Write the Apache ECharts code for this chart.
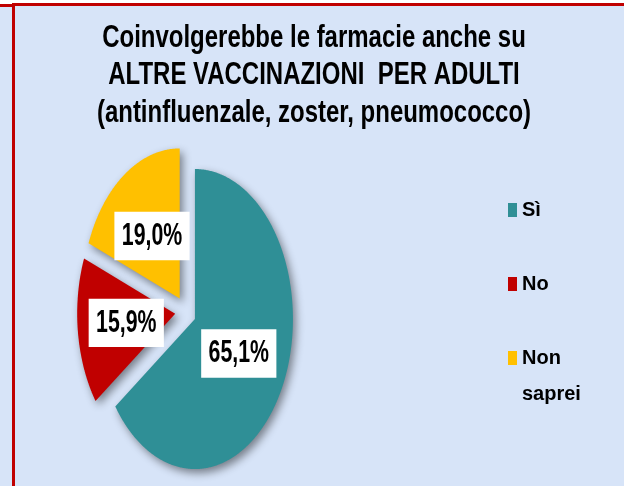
<!DOCTYPE html>
<html>
<head>
<meta charset="utf-8">
<script src="https://cdn.jsdelivr.net/npm/echarts@6/dist/echarts.min.js"></script>
<style>
  html, body { margin: 0; padding: 0; background: #ffffff; }
  #chart { width: 624px; height: 486px; }
</style>
</head>
<body>
<div id="chart"></div>
<script>
// Survey answers: would pharmacies also be involved in other adult vaccinations?
const categories = ['Sì', 'No', 'Non saprei'];
const shares = [65.1, 15.9, 19.0];
const titleLines = [
  'Coinvolgerebbe le farmacie anche su',
  'ALTRE VACCINAZIONI  PER ADULTI',
  '(antinfluenzale, zoster, pneumococco)'
];

const palette = ['#2F8F96', '#C00000', '#FFC000'];
const FONT = "'Liberation Sans', Arial, sans-serif";
const EXPLODE = 0.107;   // slice pull-out, as a fraction of the radius
const LABEL_R = 0.61;    // label distance from the centre, fraction of the radius
const BG = '#D7E4F8';
const BORDER = '#C00000';

const total = shares.reduce((a, b) => a + b, 0);
const startAngles = [];
let running = 0;
shares.forEach(v => { startAngles.push(running / total * Math.PI * 2); running += v; });

const fmtPct = v => v.toFixed(1).replace('.', ',') + '%';

// One slice of an elliptical, exploded pie drawn in the (-1..1, -1..1) value space
function renderSlice(params, api) {
  const i = params.seriesIndex;
  const v = api.value(0);
  const a0 = startAngles[i];
  const a1 = a0 + v / total * Math.PI * 2;
  const mid = (a0 + a1) / 2;
  const ox = EXPLODE * Math.sin(mid);
  const oy = EXPLODE * Math.cos(mid);
  const pts = [api.coord([ox, oy])];
  const steps = Math.max(8, Math.ceil((a1 - a0) / (Math.PI / 360)));
  for (let k = 0; k <= steps; k++) {
    const t = a0 + (a1 - a0) * k / steps;
    pts.push(api.coord([ox + Math.sin(t), oy + Math.cos(t)]));
  }
  const lp = api.coord([LABEL_R * Math.sin(mid), LABEL_R * Math.cos(mid)]);
  return {
    type: 'group',
    children: [
      {
        type: 'polygon',
        shape: { points: pts },
        style: {
          fill: palette[i],
          shadowBlur: 8,
          shadowOffsetX: 3,
          shadowOffsetY: 4,
          shadowColor: 'rgba(0,0,0,0.45)'
        }
      },
      {
        type: 'text',
        x: lp[0],
        y: lp[1],
        scaleX: 0.82,
        scaleY: 1.24,
        z2: 10,
        style: {
          text: fmtPct(v),
          x: 0,
          y: 0,
          align: 'center',
          verticalAlign: 'middle',
          fill: '#000',
          fontFamily: FONT,
          fontWeight: 'bold',
          fontSize: 26,
          backgroundColor: '#ffffff',
          padding: [7, 9, 6, 9]
        }
      }
    ]
  };
}

const chart = echarts.init(document.getElementById('chart'));

const titleGraphics = titleLines.map((line, k) => ({
  type: 'text',
  x: 314,
  y: 38 + k * 37.5,
  scaleX: 0.856,
  scaleY: 1.12,
  style: {
    text: line,
    align: 'center',
    verticalAlign: 'middle',
    fill: '#000',
    fontFamily: FONT,
    fontWeight: 'bold',
    fontSize: 28
  }
}));

// Legend labels are padded with empty lines so that every marker sits on
// the first line of its label and the markers stay evenly spaced.
function legendLabel(name) {
  if (name === categories[0]) return '\n' + name + '\n';
  if (name.indexOf(' ') >= 0) return '\n' + name.replace(' ', '\n');
  return name;
}

chart.setOption({
  backgroundColor: '#ffffff',
  animation: false,
  color: palette,
  graphic: [
    { type: 'rect', shape: { x: 0, y: 5, width: 624, height: 481 }, style: { fill: BG } },
    { type: 'rect', shape: { x: 0, y: 4, width: 13, height: 3 }, style: { fill: BORDER } },
    { type: 'rect', shape: { x: 12, y: 3, width: 612, height: 3 }, style: { fill: BORDER } },
    { type: 'rect', shape: { x: 12, y: 3, width: 3, height: 483 }, style: { fill: BORDER } }
  ].concat(titleGraphics),
  grid: { left: 87.6, top: 161.7, width: 196, height: 300 },
  xAxis: { type: 'value', min: -1, max: 1, show: false },
  yAxis: { type: 'value', min: -1, max: 1, show: false },
  legend: {
    orient: 'vertical',
    left: 508,
    top: 156,
    padding: 0,
    itemWidth: 9,
    itemHeight: 14,
    itemGap: 2,
    icon: 'rect',
    selectedMode: false,
    formatter: legendLabel,
    textStyle: {
      fontFamily: FONT,
      fontWeight: 'bold',
      fontSize: 20,
      lineHeight: 36,
      color: '#000'
    },
    data: categories
  },
  series: categories.map((name, i) => ({
    type: 'custom',
    name: name,
    coordinateSystem: 'cartesian2d',
    itemStyle: { color: palette[i] },
    renderItem: renderSlice,
    data: [[shares[i]]]
  }))
});
</script>
</body>
</html>
